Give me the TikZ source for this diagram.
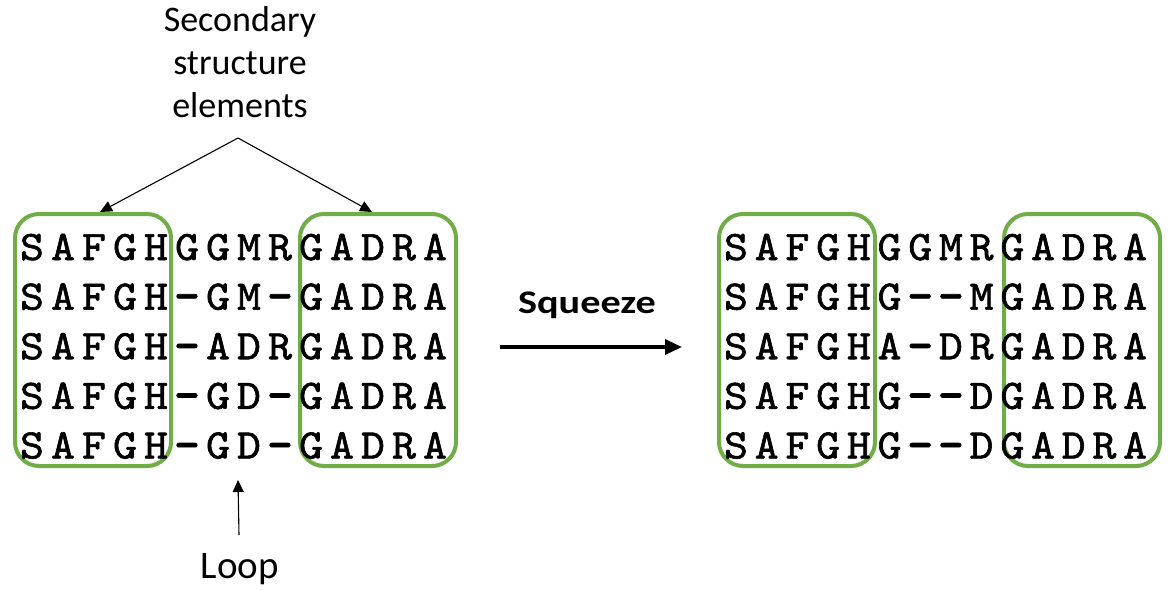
\documentclass[tikz,border=0pt]{standalone}
\usepackage{fontspec}
\setmainfont{Carlito}
\newfontfamily\seqfont[FakeBold=1.4]{lmmono10-regular.otf}
\usetikzlibrary{arrows.meta,calc}
\definecolor{boxgreen}{HTML}{70AD47}
\newcommand\gapdash{\scalebox{1.1}[1.35]{\raisebox{-3pt}{–}}}
\tikzset{
  res/.style={font=\seqfont\fontsize{42}{42}\selectfont, inner sep=0pt, anchor=base, xscale=1.08},
  blockbox/.style={draw=boxgreen, line width=4pt, rounded corners=24pt, minimum width=156pt, minimum height=252pt, inner sep=0pt},
  thinarrow/.style={line width=1.1pt, -{Triangle[length=12pt,width=11pt]}},
  bigarrow/.style={line width=3.2pt, -{Triangle[length=17pt,width=15pt]}},
  label/.style={inner sep=0pt, anchor=base}
}
\begin{document}
\begin{tikzpicture}[x=1pt,y=-1pt]
\useasboundingbox (0,0) rectangle (1170,590);
% boxes
\node[blockbox] (lb1) at (93,340) {};
\node[blockbox] (lb2) at (378,340) {};
\node[blockbox] (rb1) at (797,340) {};
\node[blockbox] (rb2) at (1082,340) {};
% left alignment
\foreach \seq [count=\r] in {{S,A,F,G,H,G,G,M,R,G,A,D,R,A},{S,A,F,G,H,\gapdash,G,M,\gapdash,G,A,D,R,A},{S,A,F,G,H,\gapdash,A,D,R,G,A,D,R,A},{S,A,F,G,H,\gapdash,G,D,\gapdash,G,A,D,R,A},{S,A,F,G,H,\gapdash,G,D,\gapdash,G,A,D,R,A}}{
  \foreach \ch [count=\c] in \seq {
    \node[res] (L-\r-\c) at ({32+(\c-1)*31},{260+(\r-1)*49.6}) {\ch};
  }
}
% right alignment
\foreach \seq [count=\r] in {{S,A,F,G,H,G,G,M,R,G,A,D,R,A},{S,A,F,G,H,G,\gapdash,\gapdash,M,G,A,D,R,A},{S,A,F,G,H,A,\gapdash,D,R,G,A,D,R,A},{S,A,F,G,H,G,\gapdash,\gapdash,D,G,A,D,R,A},{S,A,F,G,H,G,\gapdash,\gapdash,D,G,A,D,R,A}}{
  \foreach \ch [count=\c] in \seq {
    \node[res] (R-\r-\c) at ({736+(\c-1)*30.7},{260+(\r-1)*49.6}) {\ch};
  }
}
% secondary structure label
\node[label, font=\fontsize{36}{42.5}\selectfont] (sec1) at (240,31) {Secondary};
\node[label, font=\fontsize{36}{42.5}\selectfont] (sec2) at (240,74) {structure};
\node[label, font=\fontsize{36}{42.5}\selectfont] (sec3) at (240,117) {elements};
\coordinate (apex) at (238,138);
\draw[thinarrow] (apex) -- ([xshift=7pt]lb1.north);
\draw[thinarrow] (apex) -- ([xshift=-6pt]lb2.north);
% loop
\node[label, font=\fontsize{39}{44}\selectfont] (loop) at (240,578) {Loop};
\coordinate (loopstart) at (239,535);
\coordinate (looptip) at (238,480);
\draw[thinarrow] (loopstart) -- (looptip);
% squeeze
\node[label, font=\bfseries\fontsize{33}{38}\selectfont, xscale=1.22] (sq) at (587,313) {Squeeze};
\coordinate (sqa) at (500,347);
\coordinate (sqb) at (682,347);
\draw[bigarrow] (sqa) -- (sqb);
\end{tikzpicture}
\end{document}
